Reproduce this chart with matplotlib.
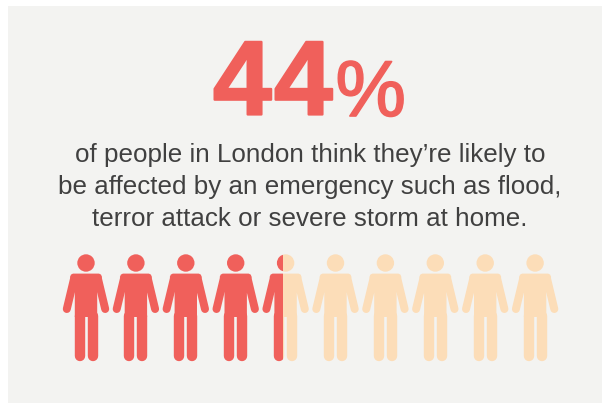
# -*- coding: utf-8 -*-
import matplotlib
matplotlib.use('Agg')
import matplotlib.pyplot as plt
import matplotlib.patheffects as pe
from matplotlib.patches import Circle, Rectangle, Polygon

percent = 44
n_people = 10
caption = ["of people in London think they\u2019re likely to",
           "be affected by an emergency such as flood,",
           "terror attack or severe storm at home."]

RED = '#f0605b'
PEACH = '#fcddb8'
PANEL = '#f3f3f1'
DARK = '#404040'


def person(ax, cx, colour, clip):
    """one pictogram figure, offsets are relative to its centre line"""
    parts = [Circle((cx, 263), 8.7, fc=colour, ec='none')]
    # torso with the sloping shoulders
    parts.append(Polygon([(cx-13, 273.6), (cx+13, 273.6), (cx+15, 274.6), (cx+16, 277),
                          (cx+11.2, 293), (cx+11.2, 317), (cx-11.2, 317),
                          (cx-11.2, 293), (cx-16, 277), (cx-15, 274.6)],
                         closed=True, fc=colour, ec='none'))
    for art in parts:
        ax.add_patch(art)
        art.set_clip_path(clip)
    # arms and legs are thick round-capped strokes
    limbs = [([cx-12, cx-19.2], [279, 309], 8),
             ([cx+12, cx+19.2], [279, 309], 8),
             ([cx-6.5, cx-6.5], [316, 356], 10.4),
             ([cx+6.5, cx+6.5], [316, 356], 10.4)]
    for xs, ys, w in limbs:
        line, = ax.plot(xs, ys, color=colour, lw=w*72/100, solid_capstyle='round')
        line.set_clip_path(clip)


fig = plt.figure(figsize=(6.02, 4.03), dpi=100)
ax = fig.add_axes([0, 0, 1, 1])
ax.set_xlim(0, 602)
ax.set_ylim(403, 0)
ax.axis('off')

ax.add_patch(Rectangle((8, 6), 594, 397, fc=PANEL, ec='none'))

# headline number, digits placed one by one to keep them apart
for i, digit in enumerate(str(percent)):
    ax.text(213 + i * 61, 114.5, digit, color=RED, fontsize=76, fontweight='bold',
            family='Liberation Sans', ha='left', va='baseline',
            path_effects=[pe.withStroke(linewidth=1.6, foreground=RED)])
# the percent sign is set lighter and smaller
ax.text(335.5, 116, '%', color=RED, fontsize=57, family='Liberation Sans',
        ha='left', va='baseline',
        path_effects=[pe.withStroke(linewidth=1.2, foreground=RED)])

for line, y in zip(caption, [162, 194, 226]):
    ax.text(310, y, line, color=DARK, fontsize=18.7, family='Liberation Sans',
            ha='center', va='baseline')

# the row is split at the percentage
row_left = 63
row_width = 500
split = row_left + row_width * percent / 100
left_clip = Rectangle((0, 0), split, 403, transform=ax.transData)
right_clip = Rectangle((split, 0), 602 - split, 403, transform=ax.transData)

for i in range(n_people):
    cx = 86 + i * 49.9
    person(ax, cx, PEACH, right_clip)
    person(ax, cx, RED, left_clip)

fig.savefig('out.png', dpi=100, facecolor='white')
